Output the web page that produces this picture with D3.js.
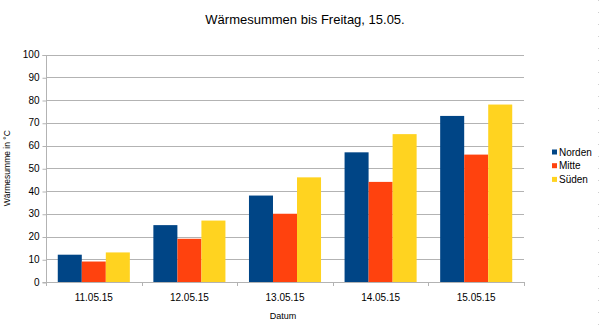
<!DOCTYPE html>
<html><head><meta charset="utf-8">
<script src="https://cdn.jsdelivr.net/npm/d3@7"></script>
<style>body{margin:0;background:#fff}svg{display:block}text{font-family:"Liberation Sans",Arial,sans-serif}</style>
</head><body><svg id="c" width="600" height="329"></svg>
<script>
const categories = ["11.05.15","12.05.15","13.05.15","14.05.15","15.05.15"];
const seriesNames = ["Norden","Mitte","Süden"];
const norden = [12,25,38,57,73];
const mitte = [9,19,30,44,56];
const sueden = [13,27,46,65,78];
const colors = ["#004586","#ff420e","#ffd320"];
const yTicks = [0,10,20,30,40,50,60,70,80,90,100];
const seriesValues = [norden, mitte, sueden];

const svg = d3.select("#c");
const L = 46, R = 524, T = 54.5, B = 282;
const x = d3.scaleBand().domain(categories).range([L, R]).paddingInner(0).paddingOuter(0);
const xs = d3.scaleBand().domain(seriesNames).range([0, x.bandwidth()]).paddingInner(0).paddingOuter(0.49);
const y = d3.scaleLinear().domain([0,100]).range([B, T]);

// gridlines
svg.append("g").selectAll("line").data(yTicks).join("line")
  .attr("x1", L).attr("x2", R).attr("y1", d=>Math.round(y(d))+0.5).attr("y2", d=>Math.round(y(d))+0.5)
  .attr("stroke", "#b3b3b3").attr("stroke-width", 1);

// bars
const g = svg.append("g");
categories.forEach((c, i) => {
  seriesNames.forEach((s, j) => {
    const v = seriesValues[j][i];
    g.append("rect")
      .attr("x", x(c) + xs(s)).attr("width", xs.bandwidth())
      .attr("y", y(v)).attr("height", B - y(v))
      .attr("fill", colors[j]);
  });
});

// y axis
const ya = d3.axisLeft(y).tickValues(yTicks).tickSize(4).tickPadding(3);
const yg = svg.append("g").attr("transform", `translate(${L+0.5},0)`).call(ya);
yg.select(".domain").attr("stroke", "#b3b3b3").attr("d", `M-4,${Math.round(T)+0.5}H0V${B+0.5}H-4`);
yg.selectAll(".tick line").attr("stroke", "#b3b3b3").attr("transform", "translate(0,0.5)");
yg.selectAll(".tick text").attr("font-size", 10).attr("fill", "#000").attr("font-family", "Liberation Sans, Arial, sans-serif");

// x axis
const xa = d3.axisBottom(x).tickSize(0).tickPadding(11);
const xg = svg.append("g").attr("transform", `translate(0,${B+0.5})`).call(xa);
xg.select(".domain").attr("stroke", "#b3b3b3").attr("d", `M${L},0H${R}`);
xg.selectAll(".tick text").attr("font-size", 10).attr("fill", "#000").attr("font-family", "Liberation Sans, Arial, sans-serif");
// category boundary ticks
const bounds = categories.map(c => x(c)).concat([R]);
svg.append("g").selectAll("line").data(bounds).join("line")
  .attr("x1", d=>Math.round(d)+0.5).attr("x2", d=>Math.round(d)+0.5)
  .attr("y1", B).attr("y2", B+4).attr("stroke", "#b3b3b3");

// title
svg.append("text").attr("x", 305).attr("y", 24).attr("text-anchor", "middle")
  .attr("font-size", 13).text("Wärmesummen bis Freitag, 15.05.");
// axis titles
svg.append("text").attr("transform", `translate(10,${(T+B)/2}) rotate(-90)`).attr("text-anchor", "middle")
  .attr("font-size", 8.5).text("Wärmesumme in °C");
svg.append("text").attr("x", 283).attr("y", 319).attr("text-anchor", "middle")
  .attr("font-size", 9).text("Datum");

// legend
const lg = svg.append("g");
seriesNames.forEach((s, j) => {
  const cy = 152 + j * 13.7;
  lg.append("rect").attr("x", 552).attr("y", cy - 2.5).attr("width", 5).attr("height", 5).attr("fill", colors[j]);
  lg.append("text").attr("x", 559).attr("y", cy + 3.5).attr("font-size", 10).text(s);
});

// faint dashed right border
svg.append("line").attr("x1", 598.5).attr("x2", 598.5).attr("y1", 0).attr("y2", 329)
  .attr("stroke", "#d0d0d0").attr("stroke-dasharray", "1,11");
</script></body></html>
